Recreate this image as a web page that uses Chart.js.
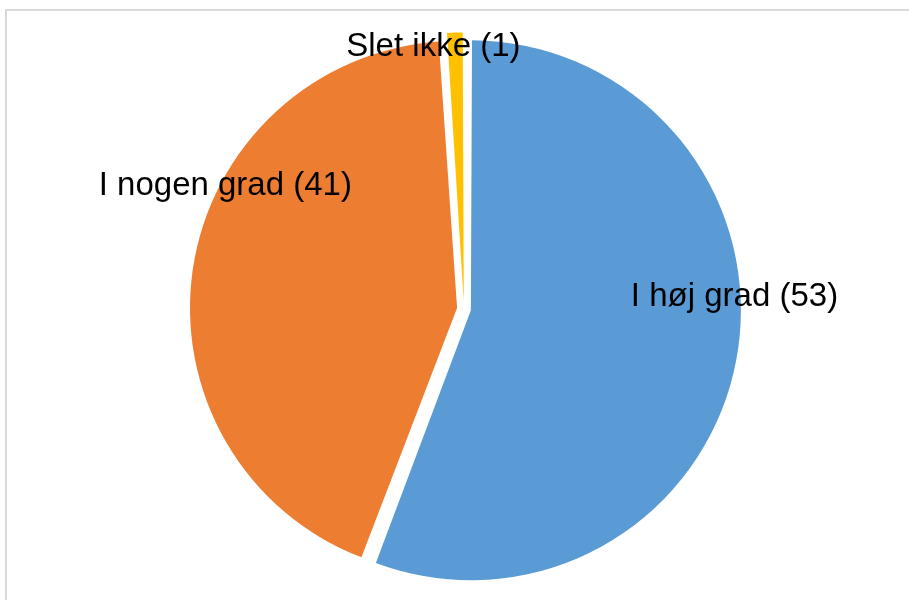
<!DOCTYPE html>
<html>
<head>
<meta charset="utf-8">
<script src="https://cdn.jsdelivr.net/npm/chart.js@4/dist/chart.umd.min.js"></script>
<style>
  body { margin: 0; background: #fff; }
  #wrap { position: relative; width: 909px; height: 600px; }
</style>
</head>
<body>
<div id="wrap"><canvas id="pieChart"></canvas></div>
<script>
var PieLabels = ['I høj grad', 'I nogen grad', 'Slet ikke'];
var PieValues = [53, 41, 1];
var PieColors = ['#5B9BD5', '#ED7D31', '#FFC000'];

// where each data label sits: angle clockwise from top, distance as share of radius
var LabelAngles = [86.9, 297.7, 353.4];
var LabelDist = [1.03, 1.025, 1.013];

// light grey frame round the chart, like the Excel chart area
var framePlugin = {
    id: 'frame',
    beforeDraw: function (chart) {
        var ctx = chart.ctx;
        ctx.save();
        ctx.strokeStyle = '#d9d9d9';
        ctx.lineWidth = 2;
        ctx.strokeRect(6, 10, 1000, 1000);
        ctx.restore();
    }
};

// data labels "Name (value)"
var labelPlugin = {
    id: 'sliceLabels',
    afterDraw: function (chart) {
        var ctx = chart.ctx;
        var arcs = chart.getDatasetMeta(0).data;
        ctx.save();
        ctx.font = '33px "Liberation Sans", Arial, sans-serif';
        ctx.fillStyle = '#000';
        ctx.textAlign = 'center';
        ctx.textBaseline = 'alphabetic';
        arcs.forEach(function (arc, i) {
            var a = LabelAngles[i] * Math.PI / 180;
            var r = arc.outerRadius * LabelDist[i];
            var x = arc.x + Math.sin(a) * r;
            var y = arc.y - Math.cos(a) * r;
            ctx.fillText(PieLabels[i] + ' (' + PieValues[i] + ')', x, y + 11.5);
        });
        ctx.restore();
    }
};

var PieData = {
    labels: PieLabels,
    datasets: [{
        data: PieValues,
        backgroundColor: PieColors,
        borderWidth: 0,
        offset: 28, // chart.js v4 moves the slice by offset/4
        hoverOffset: 0
    }]
};

var PieConfig = {
    type: 'pie',
    data: PieData,
    options: {
        responsive: true,
        maintainAspectRatio: false,
        animation: false,
        radius: 263,
        layout: { padding: { left: 19, right: 0, top: 18, bottom: 0 } },
        plugins: {
            legend: { display: false },
            tooltip: { enabled: false }
        }
    },
    plugins: [framePlugin, labelPlugin]
};

var PieChart = new Chart(
    document.getElementById('pieChart'),
    PieConfig
);
</script>
</body>
</html>
